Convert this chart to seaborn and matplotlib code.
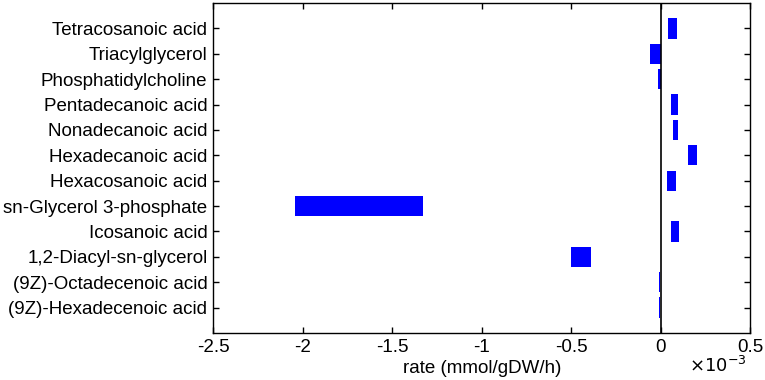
import numpy as np
import matplotlib
matplotlib.use("Agg")
import matplotlib.pyplot as plt
import seaborn as sns

# ---- data (rates in 1e-3 mmol/gDW/h), top to bottom ----
metabolites = [
    "Tetracosanoic acid",
    "Triacylglycerol",
    "Phosphatidylcholine",
    "Pentadecanoic acid",
    "Nonadecanoic acid",
    "Hexadecanoic acid",
    "Hexacosanoic acid",
    "sn-Glycerol 3-phosphate",
    "Icosanoic acid",
    "1,2-Diacyl-sn-glycerol",
    "(9Z)-Octadecenoic acid",
    "(9Z)-Hexadecenoic acid",
]
rate_min = [0.041, -0.060, -0.016, 0.058, 0.067, 0.149, 0.035, -2.042, 0.056, -0.504, -0.012, -0.012]
rate_max = [0.089, 0.0, 0.0, 0.097, 0.095, 0.199, 0.084, -1.327, 0.100, -0.389, -0.003, -0.003]
xticks = [-2.5, -2, -1.5, -1, -0.5, 0, 0.5]

sns.set_style("ticks")
plt.rcParams["font.family"] = ["Liberation Sans", "DejaVu Sans"]
plt.rcParams["text.color"] = "black"
plt.rcParams["xtick.color"] = "black"
plt.rcParams["ytick.color"] = "black"
plt.rcParams["axes.labelcolor"] = "black"

fig = plt.figure(figsize=(7.65, 3.8), dpi=100)
ax = fig.add_axes([0.2784, 0.1237, 0.7026, 0.8683])

pos = np.arange(len(metabolites))
widths = np.array(rate_max) - np.array(rate_min)
ax.barh(pos, widths, left=rate_min, height=0.8, color="#0000FF", edgecolor="none")
ax.axvline(0, color="black", lw=1.2)

ax.set_yticks(pos)
ax.set_yticklabels(metabolites, fontsize=13.5)
ax.set_ylim(len(metabolites), -1)
ax.set_xlim(-2.5, 0.5)
ax.set_xticks(xticks)
ax.set_xticklabels([f"{t:g}" for t in xticks], fontsize=13.5)
ax.set_xlabel("rate (mmol/gDW/h)", fontsize=13.5, labelpad=3)
ax.text(0.993, -0.07, r"$\times10^{-3}$", transform=ax.transAxes,
        ha="right", va="top", fontsize=13, math_fontfamily="dejavusans")

ax.tick_params(direction="in", length=4, width=1, top=True, right=True, pad=4)
for s in ax.spines.values():
    s.set_linewidth(1)
    s.set_color("black")

fig.savefig("out.png", dpi=100)
